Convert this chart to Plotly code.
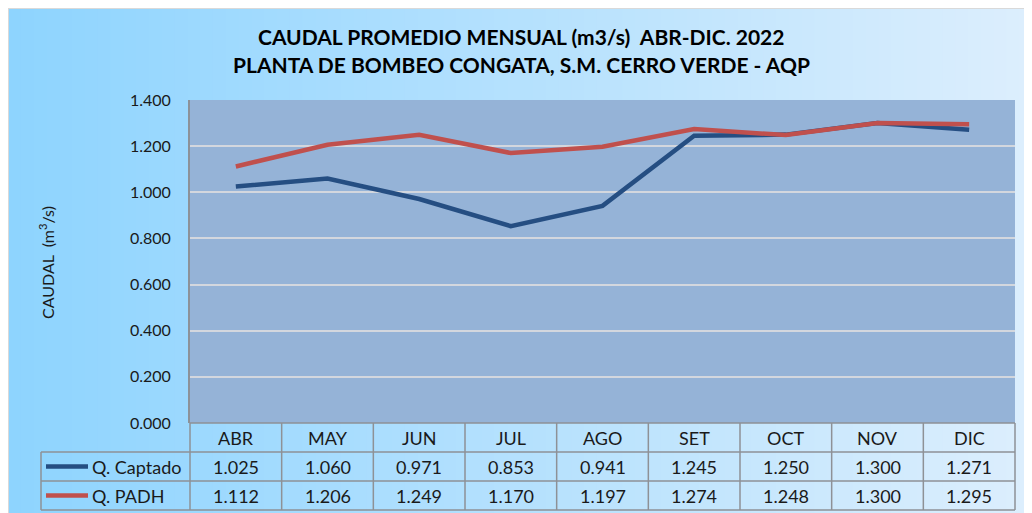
import plotly.graph_objects as go

months = ["ABR", "MAY", "JUN", "JUL", "AGO", "SET", "OCT", "NOV", "DIC"]
q_captado = [1.025, 1.060, 0.971, 0.853, 0.941, 1.245, 1.250, 1.300, 1.271]
q_padh = [1.112, 1.206, 1.249, 1.170, 1.197, 1.274, 1.248, 1.300, 1.295]
series_names = ["Q. Captado", "Q. PADH"]
series_colors = ["#254E82", "#C0504D"]

# the page body adds an 8px margin, so the figure is 1024x505
W, H = 1024, 505
OFF = 8
# plot area in screen pixels
SL, SR, ST, SB = 190, 1015, 100, 423
PW, PH = SR - SL, SB - ST
FONT = "Lato"
BORDER = "#8E9196"
TXT = "#1A1A1A"


def px(x):
    return (x - SL) / PW


def py(y):
    return (SB - y) / PH


fig = go.Figure()
for name, vals, col in zip(series_names, [q_captado, q_padh], series_colors):
    fig.add_trace(go.Scatter(x=months, y=vals, name=name, mode="lines",
                             line=dict(color=col, width=4.5)))

shapes = []
# background gradient, left to right
c0, c1 = (142, 212, 254), (220, 238, 253)
n = 80
x_start, x_end = OFF, OFF + W
for i in range(n):
    t = i / (n - 1)
    col = "rgb(%d,%d,%d)" % tuple(round(a + (b - a) * t) for a, b in zip(c0, c1))
    xa = x_start + (x_end - x_start) * i / n
    xb = x_start + (x_end - x_start) * (i + 1) / n + 1
    shapes.append(dict(type="rect", xref="paper", yref="paper", layer="below",
                       x0=px(xa), x1=px(xb), y0=py(OFF + H), y1=py(OFF),
                       fillcolor=col, line=dict(width=0)))
shapes.append(dict(type="line", xref="paper", yref="paper", layer="below",
                   x0=px(OFF), x1=px(x_end), y0=py(OFF + 0.5), y1=py(OFF + 0.5),
                   line=dict(color="#D9D9D9", width=1)))
shapes.append(dict(type="line", xref="paper", yref="paper", layer="below",
                   x0=px(OFF + 0.5), x1=px(OFF + 0.5), y0=py(OFF), y1=py(OFF + H),
                   line=dict(color="#D9D9D9", width=1)))
# plot area
shapes.append(dict(type="rect", xref="paper", yref="paper", layer="below",
                   x0=0, x1=1, y0=0, y1=1, fillcolor="#95B3D7", line=dict(width=0)))

# data table below the plot
row_h = 29
y_hdr, y_r1, y_r2, y_end = SB, SB + row_h, SB + 2 * row_h, SB + 3 * row_h
leg_x = 41
ncat = len(months)
line_style = dict(color=BORDER, width=1.5)
shapes.append(dict(type="line", xref="paper", yref="paper", x0=0, x1=1,
                   y0=py(y_hdr), y1=py(y_hdr), line=line_style))
for yy in [y_r1, y_r2, y_end]:
    shapes.append(dict(type="line", xref="paper", yref="paper", x0=px(leg_x), x1=1,
                       y0=py(yy), y1=py(yy), line=line_style))
shapes.append(dict(type="line", xref="paper", yref="paper", x0=px(leg_x), x1=px(leg_x),
                   y0=py(y_r1), y1=py(y_end), line=line_style))
for i in range(ncat + 1):
    shapes.append(dict(type="line", xref="paper", yref="paper", x0=i / ncat, x1=i / ncat,
                       y0=py(y_hdr), y1=py(y_end), line=line_style))

annotations = []
cell_font = dict(family=FONT, size=18, color=TXT)
for i, m in enumerate(months):
    xc = (i + 0.5) / ncat
    annotations.append(dict(text=m, x=xc, y=py((y_hdr + y_r1) / 2), xref="paper", yref="paper",
                            xanchor="center", yanchor="middle", showarrow=False, font=cell_font))
    for vals, ya, yb in [(q_captado, y_r1, y_r2), (q_padh, y_r2, y_end)]:
        annotations.append(dict(text="%.3f" % vals[i], x=xc, y=py((ya + yb) / 2),
                                xref="paper", yref="paper", xanchor="center", yanchor="middle",
                                showarrow=False, font=cell_font))

for name, col, ya, yb in zip(series_names, series_colors, [y_r1, y_r2], [y_r2, y_end]):
    yc = py((ya + yb) / 2)
    shapes.append(dict(type="line", xref="paper", yref="paper", x0=px(46), x1=px(88),
                       y0=yc, y1=yc, line=dict(color=col, width=4.5)))
    annotations.append(dict(text=name, x=px(90), y=yc, xref="paper", yref="paper",
                            xanchor="left", yanchor="middle", showarrow=False, font=cell_font))

title_font = dict(family=FONT, size=21, color="#000000")
annotations.append(dict(text="<b>CAUDAL PROMEDIO MENSUAL (m3/s)\u00a0 ABR-DIC. 2022</b>",
                        x=px(521), y=py(37), xref="paper", yref="paper",
                        xanchor="center", yanchor="middle", showarrow=False, font=title_font))
annotations.append(dict(text="<b>PLANTA DE BOMBEO CONGATA, S.M. CERRO VERDE - AQP</b>",
                        x=px(521), y=py(64), xref="paper", yref="paper",
                        xanchor="center", yanchor="middle", showarrow=False, font=title_font))
annotations.append(dict(text="CAUDAL\u00a0 (m<sup>3</sup>/s)", x=px(46), y=py(263),
                        xref="paper", yref="paper", xanchor="center", yanchor="middle",
                        textangle=-90, showarrow=False,
                        font=dict(family=FONT, size=16, color=TXT)))

fig.update_layout(
    width=W, height=H,
    margin=dict(l=SL - OFF, r=OFF + W - SR, t=ST - OFF, b=OFF + H - SB, pad=0),
    paper_bgcolor="white",
    plot_bgcolor="rgba(0,0,0,0)",
    showlegend=False,
    shapes=shapes,
    annotations=annotations,
)
fig.update_xaxes(showticklabels=False, showgrid=False, zeroline=False, showline=False,
                 range=[-0.5, ncat - 0.5])
fig.update_yaxes(range=[0, 1.4], dtick=0.2, tickformat=".3f", gridcolor="#D3D7DE",
                 gridwidth=2, zeroline=False, showline=True, linecolor="#8C9299",
                 linewidth=2, ticks="outside", ticklen=14, tickcolor="rgba(0,0,0,0)",
                 tickfont=dict(family=FONT, size=16, color=TXT))

fig.write_html("out.html")
